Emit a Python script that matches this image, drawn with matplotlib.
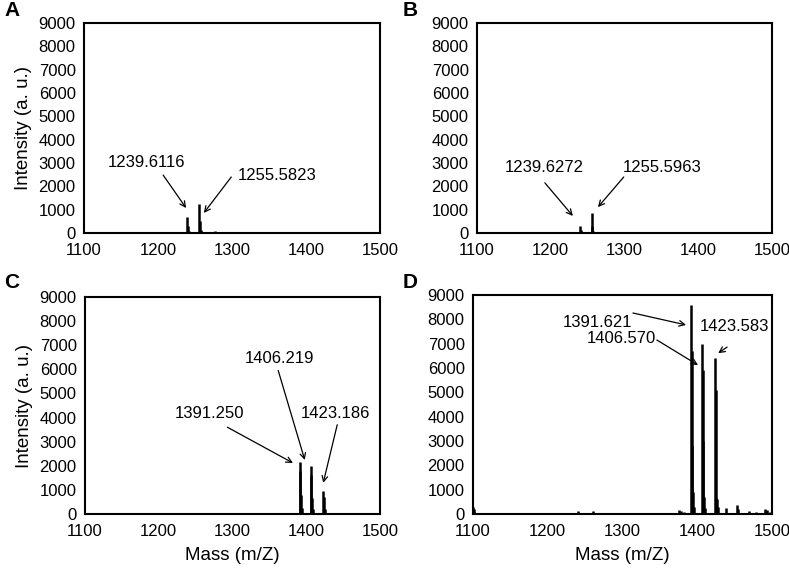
import matplotlib.pyplot as plt

plt.rcParams['font.family'] = ['Liberation Sans', 'DejaVu Sans']

# peak lists (m/z, intensity)
mz_a = [1239.6, 1240.6, 1241.6, 1255.6, 1256.6, 1257.6, 1277.0, 1315.0, 1205.0]
int_a = [700, 320, 90, 1250, 520, 120, 80, 30, 20]

mz_b = [1239.6, 1240.6, 1255.6, 1256.6, 1257.6, 1275.0, 1280.0, 1315.0]
int_b = [300, 120, 850, 320, 90, 30, 20, 20]

mz_c = [1391.25, 1392.1, 1393.0, 1394.0, 1406.2, 1407.1, 1408.0, 1409.0,
        1423.2, 1424.1, 1425.0, 1360.0, 1375.0, 1488.0, 1492.0]
int_c = [2150, 1800, 800, 250, 2000, 1600, 650, 200,
         950, 700, 200, 20, 40, 30, 30]

mz_d = [1391.6, 1392.5, 1393.3, 1394.2, 1395.2, 1406.6, 1407.5, 1408.3,
        1409.2, 1410.2, 1423.6, 1424.5, 1425.3, 1426.2, 1427.2,
        1100.0, 1101.0, 1102.0, 1142.0, 1189.0, 1203.0, 1219.0, 1240.0,
        1261.0, 1276.0, 1290.0, 1347.0, 1362.0, 1375.0, 1378.0, 1382.0,
        1438.0, 1453.0, 1455.0, 1469.0, 1478.0, 1490.0, 1493.0, 1497.0]
int_d = [8600, 6700, 2800, 900, 300, 7000, 5900, 3000, 700, 250,
         6400, 5100, 650, 600, 300,
         300, 220, 100, 50, 60, 60, 50, 130,
         120, 60, 40, 40, 60, 150, 120, 90,
         250, 350, 220, 120, 100, 200, 150, 100]

# labels: (text, text xy, arrow start, arrow end)
ann_a = [('1239.6116', (1185, 3000), (1207, 2480), (1238, 1070)),
         ('1255.5823', (1361, 2480), (1299, 2400), (1262, 860))]
ann_b = [('1239.6272', (1191, 2790), (1192, 2150), (1230, 730)),
         ('1255.5963', (1351, 2790), (1299, 2400), (1264, 1110))]
ann_c = [('1406.219', (1364, 6430), (1362, 5950), (1398, 2240)),
         ('1391.250', (1269, 4150), (1293, 3600), (1382, 2115)),
         ('1423.186', (1439, 4150), (1442, 3700), (1423, 1290))]
ann_d = [('1391.621', (1266, 7850), (1314, 8260), (1385, 7770)),
         ('1406.570', (1298, 7230), (1346, 7150), (1401, 6120)),
         ('1423.583', (1450, 7690), (1440, 6860), (1428, 6610))]

fig = plt.figure(figsize=(7.89, 5.68), dpi=100)
W, H = 789.0, 568.0

# axes boxes in pixels: left, top, right, bottom
boxes = {
    'A': (84, 23, 380, 233),
    'B': (477, 23, 772, 233),
    'C': (85, 297, 380, 514),
    'D': (473, 295, 772, 514),
}
panels = [('A', mz_a, int_a, ann_a), ('B', mz_b, int_b, ann_b),
          ('C', mz_c, int_c, ann_c), ('D', mz_d, int_d, ann_d)]

for name, mz, inten, anns in panels:
    l, t, r, b = boxes[name]
    ax = fig.add_axes([l / W, 1 - b / H, (r - l) / W, (b - t) / H])
    ax.vlines(mz, 0, inten, color='black', linewidth=1.8)
    ax.set_xlim(1100, 1500)
    ax.set_ylim(0, 9000)
    ax.set_xticks([1100, 1200, 1300, 1400, 1500])
    ax.set_yticks(range(0, 9001, 1000))
    ax.tick_params(length=0, labelsize=12)
    ax.tick_params(axis='x', pad=7)
    ax.tick_params(axis='y', pad=6)
    for s in ax.spines.values():
        s.set_linewidth(1.5)
    for txt, xy, p0, p1 in anns:
        ax.text(xy[0], xy[1], txt, ha='center', va='center', fontsize=12)
        ax.annotate('', xy=p1, xytext=p0,
                    arrowprops=dict(arrowstyle='->', color='black', lw=0.9,
                                    shrinkA=0, shrinkB=0))
    if name in ('A', 'C'):
        ax.set_ylabel('Intensity (a. u.)', fontsize=13.5, labelpad=5)
    if name in ('C', 'D'):
        ax.set_xlabel('Mass (m/Z)', fontsize=13.5, labelpad=6)
    lx = 4 if name in ('A', 'C') else 403
    ly = 11 if name in ('A', 'B') else 282
    fig.text(lx / W, 1 - ly / H, name, fontsize=15, fontweight='bold',
             ha='left', va='center')

fig.savefig('out.png', dpi=100)
